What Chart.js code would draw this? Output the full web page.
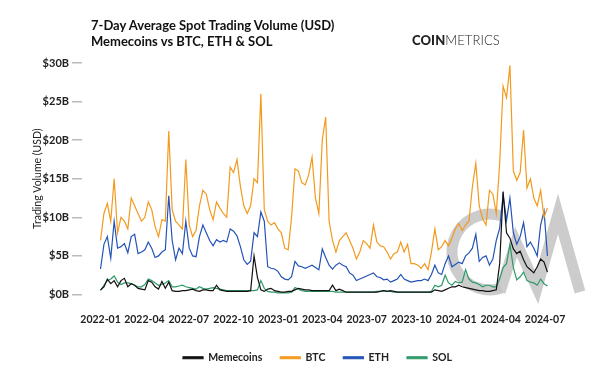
<!DOCTYPE html>
<html>
<head>
<meta charset="utf-8">
<script src="https://cdn.jsdelivr.net/npm/chart.js@4"></script>
<style>
  html, body { margin: 0; padding: 0; background: #fff; }
  #wrap { position: relative; width: 600px; height: 377px; font-family: Lato, "Open Sans", sans-serif; }
  #title { position: absolute; left: 91px; top: 17px; font-weight: 700; font-size: 13px; line-height: 16px; color: #111; }
  #logo { position: absolute; left: 412px; top: 32px; font-size: 13px; color: #222; letter-spacing: 0.1px; }
  #logo b { font-weight: 900; }
  #logo span { font-weight: 300; }
  canvas { position: absolute; left: 0; top: 0; }
</style>
</head>
<body>
<div id="wrap">
  <canvas id="chart" width="600" height="377"></canvas>
  <div id="title">7-Day Average Spot Trading Volume (USD)<br>Memecoins vs BTC, ETH &amp; SOL</div>
  <div id="logo"><b>COIN</b><span>METRICS</span></div>
</div>
<script>
// weekly samples, day 0 = 2022-01-01
const days = Array.from({ length: 132 }, (_, i) => i * 7);

const tickDays = [0, 90, 181, 273, 365, 455, 546, 638, 730, 821, 912];
const tickLabels = ['2022-01', '2022-04', '2022-07', '2022-10', '2023-01', '2023-04',
                    '2023-07', '2023-10', '2024-01', '2024-04', '2024-07'];

// values in $B, one row per quarter
const btc = [
  7.0, 10.5, 11.8, 9.5, 15.0, 8.0, 10.0, 9.5, 8.5, 12.5, 11.5, 10.5, 9.5,
  10.0, 12.0, 11.0, 8.8, 7.5, 9.7, 9.5, 21.2, 11.0, 9.5, 9.0, 8.5, 17.5,
  9.0, 7.5, 8.3, 11.5, 13.5, 13.0, 11.0, 9.7, 12.0, 11.2, 10.5, 10.0, 16.5,
  15.8, 17.5, 14.0, 11.5, 10.5, 11.5, 15.0, 14.5, 26.0, 11.0, 9.5, 9.0, 9.3,
  8.5, 8.0, 6.0, 5.8, 10.0, 16.3, 16.0, 14.5, 14.2, 15.5, 17.8, 12.5, 10.5,
  20.0, 23.0, 9.5, 7.0, 5.5, 7.0, 7.5, 8.0, 7.0, 6.0, 4.6, 5.5, 7.0,
  6.6, 6.0, 9.0, 6.8, 6.3, 6.2, 5.5, 4.6, 5.3, 5.5, 6.8, 5.5, 6.5,
  4.0, 4.0, 3.8, 3.4, 4.0, 3.2, 5.5, 8.5, 5.8, 6.2, 7.0, 6.3, 7.3,
  8.5, 9.2, 8.3, 9.0, 9.5, 14.0, 17.0, 11.5, 9.8, 9.0, 13.5, 13.0, 10.5,
  17.0, 27.0, 25.5, 29.7, 16.0, 14.8, 15.8, 21.3, 13.8, 15.0, 12.5, 11.5, 13.5,
  10.0, 11.2
];
const eth = [
  3.3, 6.5, 7.5, 4.7, 9.5, 6.0, 6.2, 6.6, 5.4, 7.5, 7.8, 5.3, 5.5,
  5.8, 6.8, 6.0, 4.8, 5.0, 5.5, 5.8, 12.8, 7.0, 4.5, 6.0, 5.3, 9.5,
  6.0, 5.0, 4.9, 7.5, 9.0, 8.0, 7.0, 6.3, 7.1, 6.8, 7.0, 6.8, 8.5,
  8.2, 7.6, 6.2, 4.5, 3.9, 4.3, 8.0, 7.5, 10.7, 9.5, 3.6, 3.4, 3.3,
  3.0, 2.3, 2.0, 1.9, 2.3, 4.3, 3.7, 3.6, 3.4, 3.6, 3.8, 3.5, 3.2,
  5.9, 4.8, 3.8, 3.3, 3.8, 4.1, 3.8, 3.6, 2.8, 2.5, 1.8, 2.0, 2.2,
  2.4, 2.6, 2.8, 2.3, 2.2, 1.9, 2.0, 1.6, 1.8, 2.0, 2.6, 2.0, 1.8,
  1.6, 1.7, 1.8, 1.8, 2.0, 1.8, 2.6, 3.8, 2.8, 2.6, 4.0, 5.0, 3.6,
  3.9, 4.2, 4.0, 5.0, 5.4, 6.0, 7.8, 4.3, 4.8, 5.0, 3.8, 4.6, 7.0,
  8.6, 12.9, 9.6, 12.5, 8.0, 6.5, 7.5, 9.3, 6.2, 6.8, 6.0, 5.0, 9.0,
  10.8, 5.0
];
const memecoins = [
  0.6, 1.0, 2.0, 1.4, 1.8, 1.0, 1.8, 2.1, 1.0, 1.4, 1.2, 0.8, 0.7,
  0.6, 1.8, 1.6, 1.0, 0.7, 1.7, 0.8, 1.6, 0.5, 0.4, 0.4, 0.5, 0.5,
  0.6, 0.7, 0.5, 0.4, 0.6, 0.6, 0.5, 0.5, 1.2, 0.6, 0.5, 0.4, 0.4,
  0.4, 0.4, 0.4, 0.4, 0.4, 0.5, 5.0, 2.2, 0.6, 0.4, 0.7, 0.8, 0.5,
  0.4, 0.3, 0.3, 0.4, 0.4, 0.6, 0.8, 0.7, 0.6, 0.6, 0.5, 0.5, 0.5,
  0.5, 0.5, 0.5, 1.2, 0.5, 0.7, 0.5, 0.3, 0.3, 0.3, 0.3, 0.3, 0.3,
  0.3, 0.3, 0.3, 0.3, 0.4, 0.5, 0.4, 0.5, 0.4, 0.3, 0.3, 0.3, 0.3,
  0.3, 0.3, 0.3, 0.3, 0.3, 0.3, 0.3, 0.6, 0.5, 0.4, 0.6, 0.8, 1.0,
  1.0, 1.2, 1.0, 0.9, 0.8, 0.7, 0.6, 0.5, 0.5, 0.4, 0.4, 0.5, 0.6,
  4.0, 13.3, 8.0, 7.3, 5.9, 5.3, 5.6, 4.5, 3.6, 3.2, 2.8, 3.6, 4.6,
  4.2, 2.9
];
const sol = [
  0.5, 1.2, 1.8, 2.0, 2.4, 1.6, 1.3, 1.5, 1.5, 1.4, 1.2, 1.0, 1.0,
  1.3, 2.0, 1.8, 1.5, 1.2, 1.3, 1.5, 1.8, 1.0, 1.0, 1.1, 1.2, 1.0,
  0.9, 0.8, 0.7, 1.0, 0.8, 0.7, 0.8, 0.9, 0.8, 0.7, 0.6, 0.5, 0.5,
  0.5, 0.5, 0.5, 0.5, 0.5, 0.5, 0.5, 0.6, 1.8, 0.8, 0.4, 0.3, 0.3,
  0.2, 0.2, 0.2, 0.2, 0.3, 0.9, 0.7, 0.5, 0.4, 0.4, 0.4, 0.4, 0.4,
  0.4, 0.4, 0.4, 0.4, 0.3, 0.3, 0.3, 0.3, 0.3, 0.3, 0.3, 0.3, 0.3,
  0.3, 0.3, 0.3, 0.4, 0.4, 0.5, 0.4, 0.4, 0.3, 0.3, 0.3, 0.3, 0.3,
  0.3, 0.3, 0.3, 0.3, 0.3, 0.3, 0.4, 1.2, 1.0, 1.2, 2.5, 1.5, 1.2,
  1.7, 1.5, 1.6, 3.2, 2.0, 1.6, 1.5, 1.3, 1.0, 1.2, 1.2, 1.0, 1.0,
  2.0, 3.5, 4.0, 6.5, 3.5, 1.9, 2.3, 2.9, 1.8, 1.6, 1.5, 1.2, 2.0,
  1.4, 1.1
];

function series(values) {
  return values.map((v, i) => ({ x: days[i], y: v }));
}

function makeDataset(label, values, color) {
  return {
    label: label,
    data: series(values),
    borderColor: color,
    backgroundColor: color,
    borderWidth: 1.2,
    pointRadius: 0,
    tension: 0,
    fill: false
  };
}

// grey "CM" watermark behind the lines
const watermark = {
  id: 'watermark',
  beforeDatasetsDraw(chart) {
    const ctx = chart.ctx;
    ctx.save();
    ctx.strokeStyle = 'rgba(195,195,195,0.85)';
    ctx.lineWidth = 11;
    ctx.beginPath();
    ctx.arc(490, 252, 38, -1.27, 1.27, true);
    ctx.stroke();
    ctx.lineJoin = 'miter';
    ctx.beginPath();
    ctx.moveTo(500, 292);
    ctx.lineTo(516, 242);
    ctx.lineTo(537, 288);
    ctx.lineTo(558, 214);
    ctx.lineTo(580, 292);
    ctx.stroke();
    ctx.restore();
  }
};

// the legend sits centred under the whole page, not under the plot box
const legendShift = {
  id: 'legendShift',
  afterLayout(chart) {
    chart.legend.left += 70;
  }
};

const ctx = document.getElementById('chart').getContext('2d');
const chart = new Chart(ctx, {
  type: 'line',
  data: {
    datasets: [
      makeDataset('Memecoins', memecoins, '#111111'),
      makeDataset('BTC', btc, '#f39a1e'),
      makeDataset('ETH', eth, '#2453b8'),
      makeDataset('SOL', sol, '#2e9a68')
    ]
  },
  options: {
    responsive: false,
    animation: false,
    layout: { padding: { top: 63, right: 35, left: 0, bottom: 4 } },
    plugins: {
      title: { display: false },
      tooltip: { enabled: false },
      legend: {
        position: 'bottom',
        labels: {
          boxWidth: 20,
          boxHeight: 2,
          padding: 18,
          color: '#222',
          font: { family: 'Lato', size: 10.5, weight: 'bold' }
        }
      }
    },
    scales: {
      x: {
        type: 'linear',
        min: -38,
        max: 953,
        grid: { display: false, drawTicks: false },
        border: { display: false },
        afterBuildTicks: (scale) => {
          scale.ticks = tickDays.map(v => ({ value: v }));
        },
        afterFit: (scale) => { scale.height = 40; },
        ticks: {
          padding: 19,
          autoSkip: false,
          maxRotation: 0,
          color: '#222',
          font: { family: 'Lato', size: 10.5, weight: 'bold' },
          callback: (v) => tickLabels[tickDays.indexOf(v)]
        }
      },
      y: {
        min: 0,
        max: 30,
        grid: { drawOnChartArea: false, color: '#bbbbbb', tickLength: 10, lineWidth: 1.5 },
        border: { display: false },
        afterFit: (scale) => { scale.width = 82; },
        title: {
          display: true,
          text: 'Trading Volume (USD)',
          color: '#222',
          padding: { top: 31 },
          font: { family: 'Lato', size: 10.5 }
        },
        ticks: {
          stepSize: 5,
          padding: 3,
          color: '#222',
          font: { family: 'Lato', size: 11, weight: 'bold' },
          callback: (v) => '$' + v + 'B'
        }
      }
    }
  },
  plugins: [watermark, legendShift]
});
</script>
</body>
</html>
